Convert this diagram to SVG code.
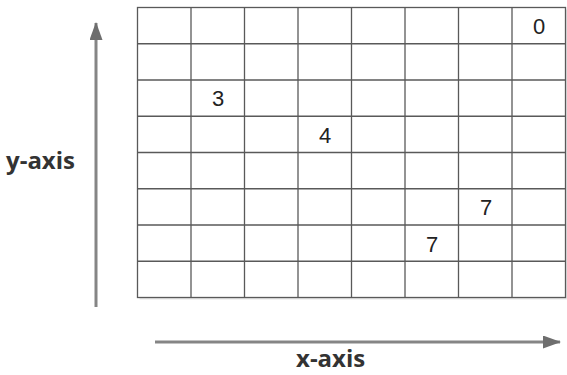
<svg xmlns="http://www.w3.org/2000/svg" width="567" height="375" viewBox="0 0 567 375">
<style>
.grid line{stroke:#595959;stroke-width:1.3}
.num{font-family:"Liberation Sans",Arial,sans-serif;font-size:22px;fill:#222;text-anchor:middle}
.lbl{font-family:"Open Sans","Noto Sans",sans-serif;font-weight:bold;font-size:24px;fill:#333}
.axis{stroke:#858585;stroke-width:3;fill:none}
</style>
<defs>
<marker id="ah" viewBox="0 0 18 13" refX="17" refY="6.5" markerWidth="18" markerHeight="13" markerUnits="userSpaceOnUse" orient="auto">
<path d="M0,0 L18,6.5 L0,13 Z" fill="#6e6e6e"/>
</marker>
</defs>
<rect fill="#fff" width="567" height="375"/>
<g id="grid" class="grid">
<rect x="139.5" y="9.5" width="428" height="290" fill="#e6e6e6"/>
<rect x="137.5" y="7.5" width="428" height="290" fill="#fff" stroke="#595959" stroke-width="1.3"/>
<line x1="191" y1="7.5" x2="191" y2="297.5"/>
<line x1="244.5" y1="7.5" x2="244.5" y2="297.5"/>
<line x1="298" y1="7.5" x2="298" y2="297.5"/>
<line x1="351.5" y1="7.5" x2="351.5" y2="297.5"/>
<line x1="405" y1="7.5" x2="405" y2="297.5"/>
<line x1="458.5" y1="7.5" x2="458.5" y2="297.5"/>
<line x1="512" y1="7.5" x2="512" y2="297.5"/>
<line x1="137.5" y1="43.75" x2="565.5" y2="43.75"/>
<line x1="137.5" y1="80" x2="565.5" y2="80"/>
<line x1="137.5" y1="116.25" x2="565.5" y2="116.25"/>
<line x1="137.5" y1="152.5" x2="565.5" y2="152.5"/>
<line x1="137.5" y1="188.75" x2="565.5" y2="188.75"/>
<line x1="137.5" y1="225" x2="565.5" y2="225"/>
<line x1="137.5" y1="261.25" x2="565.5" y2="261.25"/>
</g>
<g id="values">
<text class="num" x="539" y="33.5">0</text>
<text class="num" x="218" y="106">3</text>
<text class="num" x="325" y="142.5">4</text>
<text class="num" x="486" y="215">7</text>
<text class="num" x="432" y="251.5">7</text>
</g>
<g id="connectors">
<line class="axis" x1="96" y1="307" x2="96" y2="23" marker-end="url(#ah)"/>
<line class="axis" x1="155" y1="342" x2="560" y2="342" marker-end="url(#ah)"/>
</g>
<g id="y-label"><text class="lbl" x="6" y="169">y-axis</text></g>
<g id="x-label"><text class="lbl" x="296" y="367">x-axis</text></g>
</svg>
